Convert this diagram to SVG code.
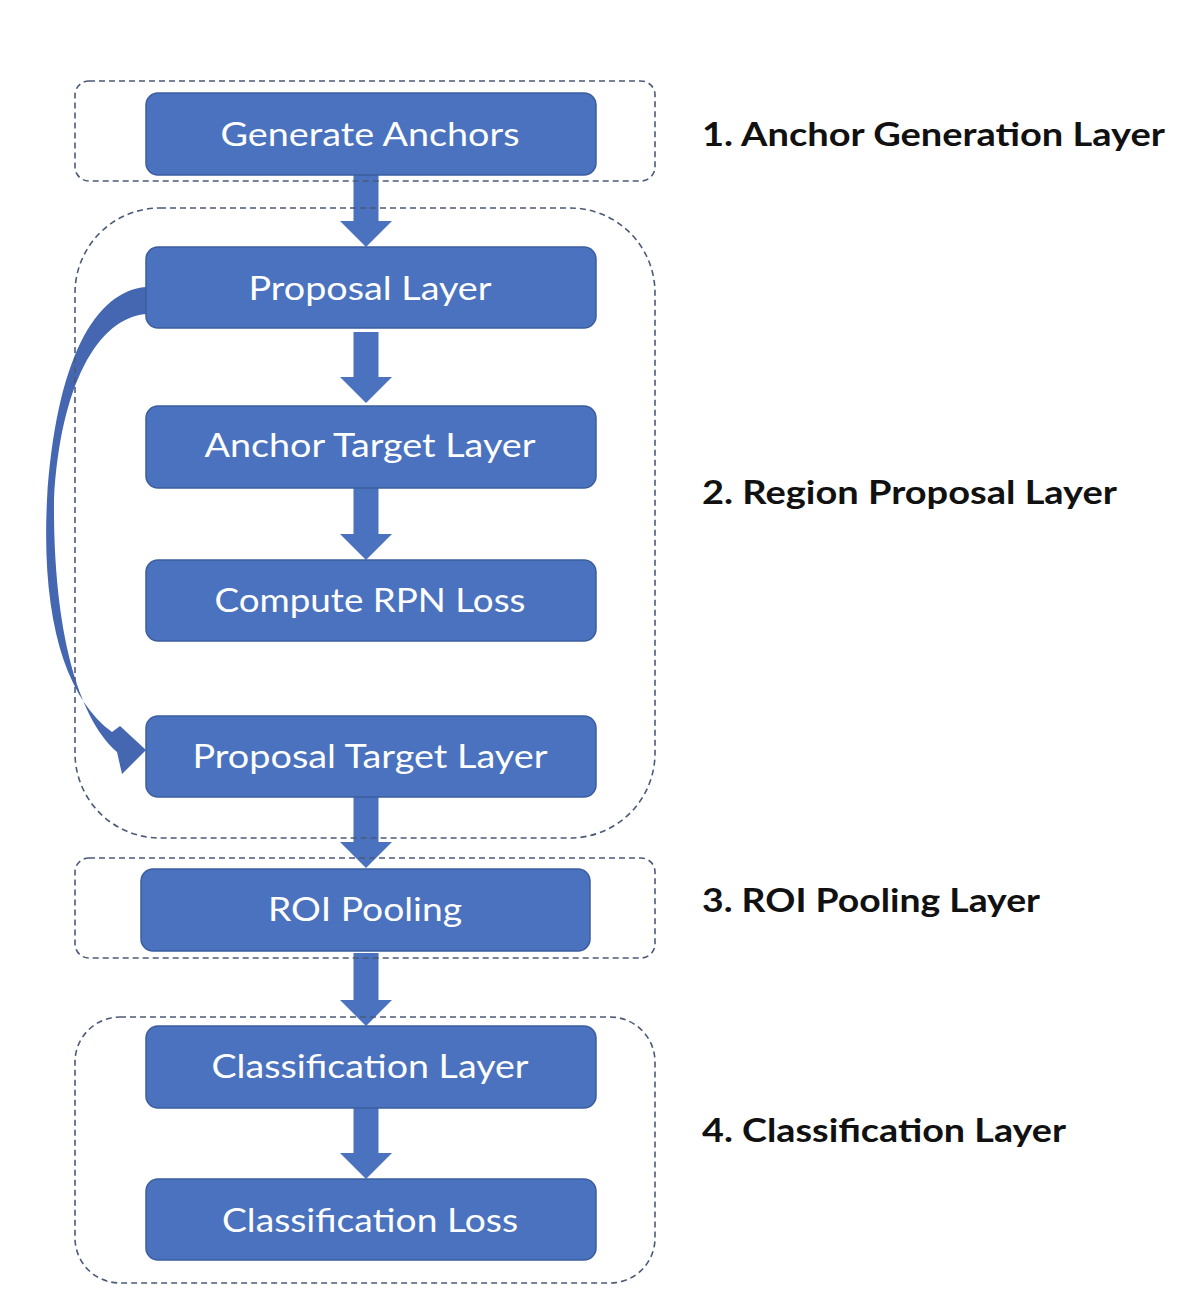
<svg xmlns="http://www.w3.org/2000/svg" width="1192" height="1310" viewBox="0 0 1192 1310">
<style>
.box{fill:#4a72bf;stroke:#3b5d9e;stroke-width:1.5}
.lbl{font-family:Lato,"Open Sans","Liberation Sans",sans-serif;font-size:33px;fill:#ffffff;text-anchor:middle}
.side{font-family:Lato,"Open Sans","Liberation Sans",sans-serif;font-size:33px;font-weight:bold;fill:#111111}
.grp{fill:none;stroke:#4b5a78;stroke-width:1.6;stroke-dasharray:6 4}
.arr{fill:#4a72bf}
</style>
<rect width="1192" height="1310" fill="#ffffff"/>
<g id="connectors">
<polygon class="arr" points="353.5,175 378.5,175 378.5,221 392,221 366,247 340,221 353.5,221"/>
<polygon class="arr" points="353.5,332 378.5,332 378.5,377 392,377 366,403 340,377 353.5,377"/>
<polygon class="arr" points="353.5,488 378.5,488 378.5,534 392,534 366,560 340,534 353.5,534"/>
<polygon class="arr" points="353.5,797 378.5,797 378.5,842 392,842 366,868 340,842 353.5,842"/>
<polygon class="arr" points="353.5,953 378.5,953 378.5,1000 392,1000 366,1026 340,1000 353.5,1000"/>
<polygon class="arr" points="353.5,1108 378.5,1108 378.5,1153 392,1153 366,1179 340,1153 353.5,1153"/>
<path id="curve" fill="#4566b0" d="M146,287 C95,291 56,360 47,500 C41,620 66,698 112,732 L120,726 L146,750 L122,774 L117,752 C76,716 53,624 54,500 C60,385 98,318 146,314 Z"/>
</g>
<g id="n1"><rect class="box" x="146" y="93" width="450" height="82" rx="12"/><text class="lbl" x="370" y="146" textLength="299" lengthAdjust="spacingAndGlyphs">Generate Anchors</text></g>
<g id="n2"><rect class="box" x="146" y="247" width="450" height="81" rx="12"/><text class="lbl" x="370" y="300" textLength="243" lengthAdjust="spacingAndGlyphs">Proposal Layer</text></g>
<g id="n3"><rect class="box" x="146" y="406" width="450" height="82" rx="12"/><text class="lbl" x="370" y="457" textLength="331" lengthAdjust="spacingAndGlyphs">Anchor Target Layer</text></g>
<g id="n4"><rect class="box" x="146" y="560" width="450" height="81" rx="12"/><text class="lbl" x="370" y="612" textLength="311" lengthAdjust="spacingAndGlyphs">Compute RPN Loss</text></g>
<g id="n5"><rect class="box" x="146" y="716" width="450" height="81" rx="12"/><text class="lbl" x="370" y="768" textLength="355" lengthAdjust="spacingAndGlyphs">Proposal Target Layer</text></g>
<g id="n6"><rect class="box" x="141" y="869" width="449" height="82" rx="12"/><text class="lbl" x="365" y="921" textLength="194" lengthAdjust="spacingAndGlyphs">ROI Pooling</text></g>
<g id="n7"><rect class="box" x="146" y="1026" width="450" height="82" rx="12"/><text class="lbl" x="370" y="1078" textLength="317" lengthAdjust="spacingAndGlyphs">Classification Layer</text></g>
<g id="n8"><rect class="box" x="146" y="1179" width="450" height="81" rx="12"/><text class="lbl" x="370" y="1232" textLength="296" lengthAdjust="spacingAndGlyphs">Classification Loss</text></g>
<g id="groups">
<rect id="g1" class="grp" x="75" y="81" width="580" height="100" rx="14"/>
<rect id="g2" class="grp" x="75" y="208" width="580" height="630" rx="85"/>
<rect id="g3" class="grp" x="75" y="858" width="580" height="100" rx="14"/>
<rect id="g4" class="grp" x="75" y="1017" width="580" height="266" rx="45"/>
</g>
<g id="labels">
<text class="side" x="702" y="146" textLength="463" lengthAdjust="spacingAndGlyphs">1. Anchor Generation Layer</text>
<text class="side" x="702" y="504" textLength="415" lengthAdjust="spacingAndGlyphs">2. Region Proposal Layer</text>
<text class="side" x="702" y="912" textLength="338" lengthAdjust="spacingAndGlyphs">3. ROI Pooling Layer</text>
<text class="side" x="702" y="1142" textLength="364" lengthAdjust="spacingAndGlyphs">4. Classification Layer</text>
</g>
</svg>
